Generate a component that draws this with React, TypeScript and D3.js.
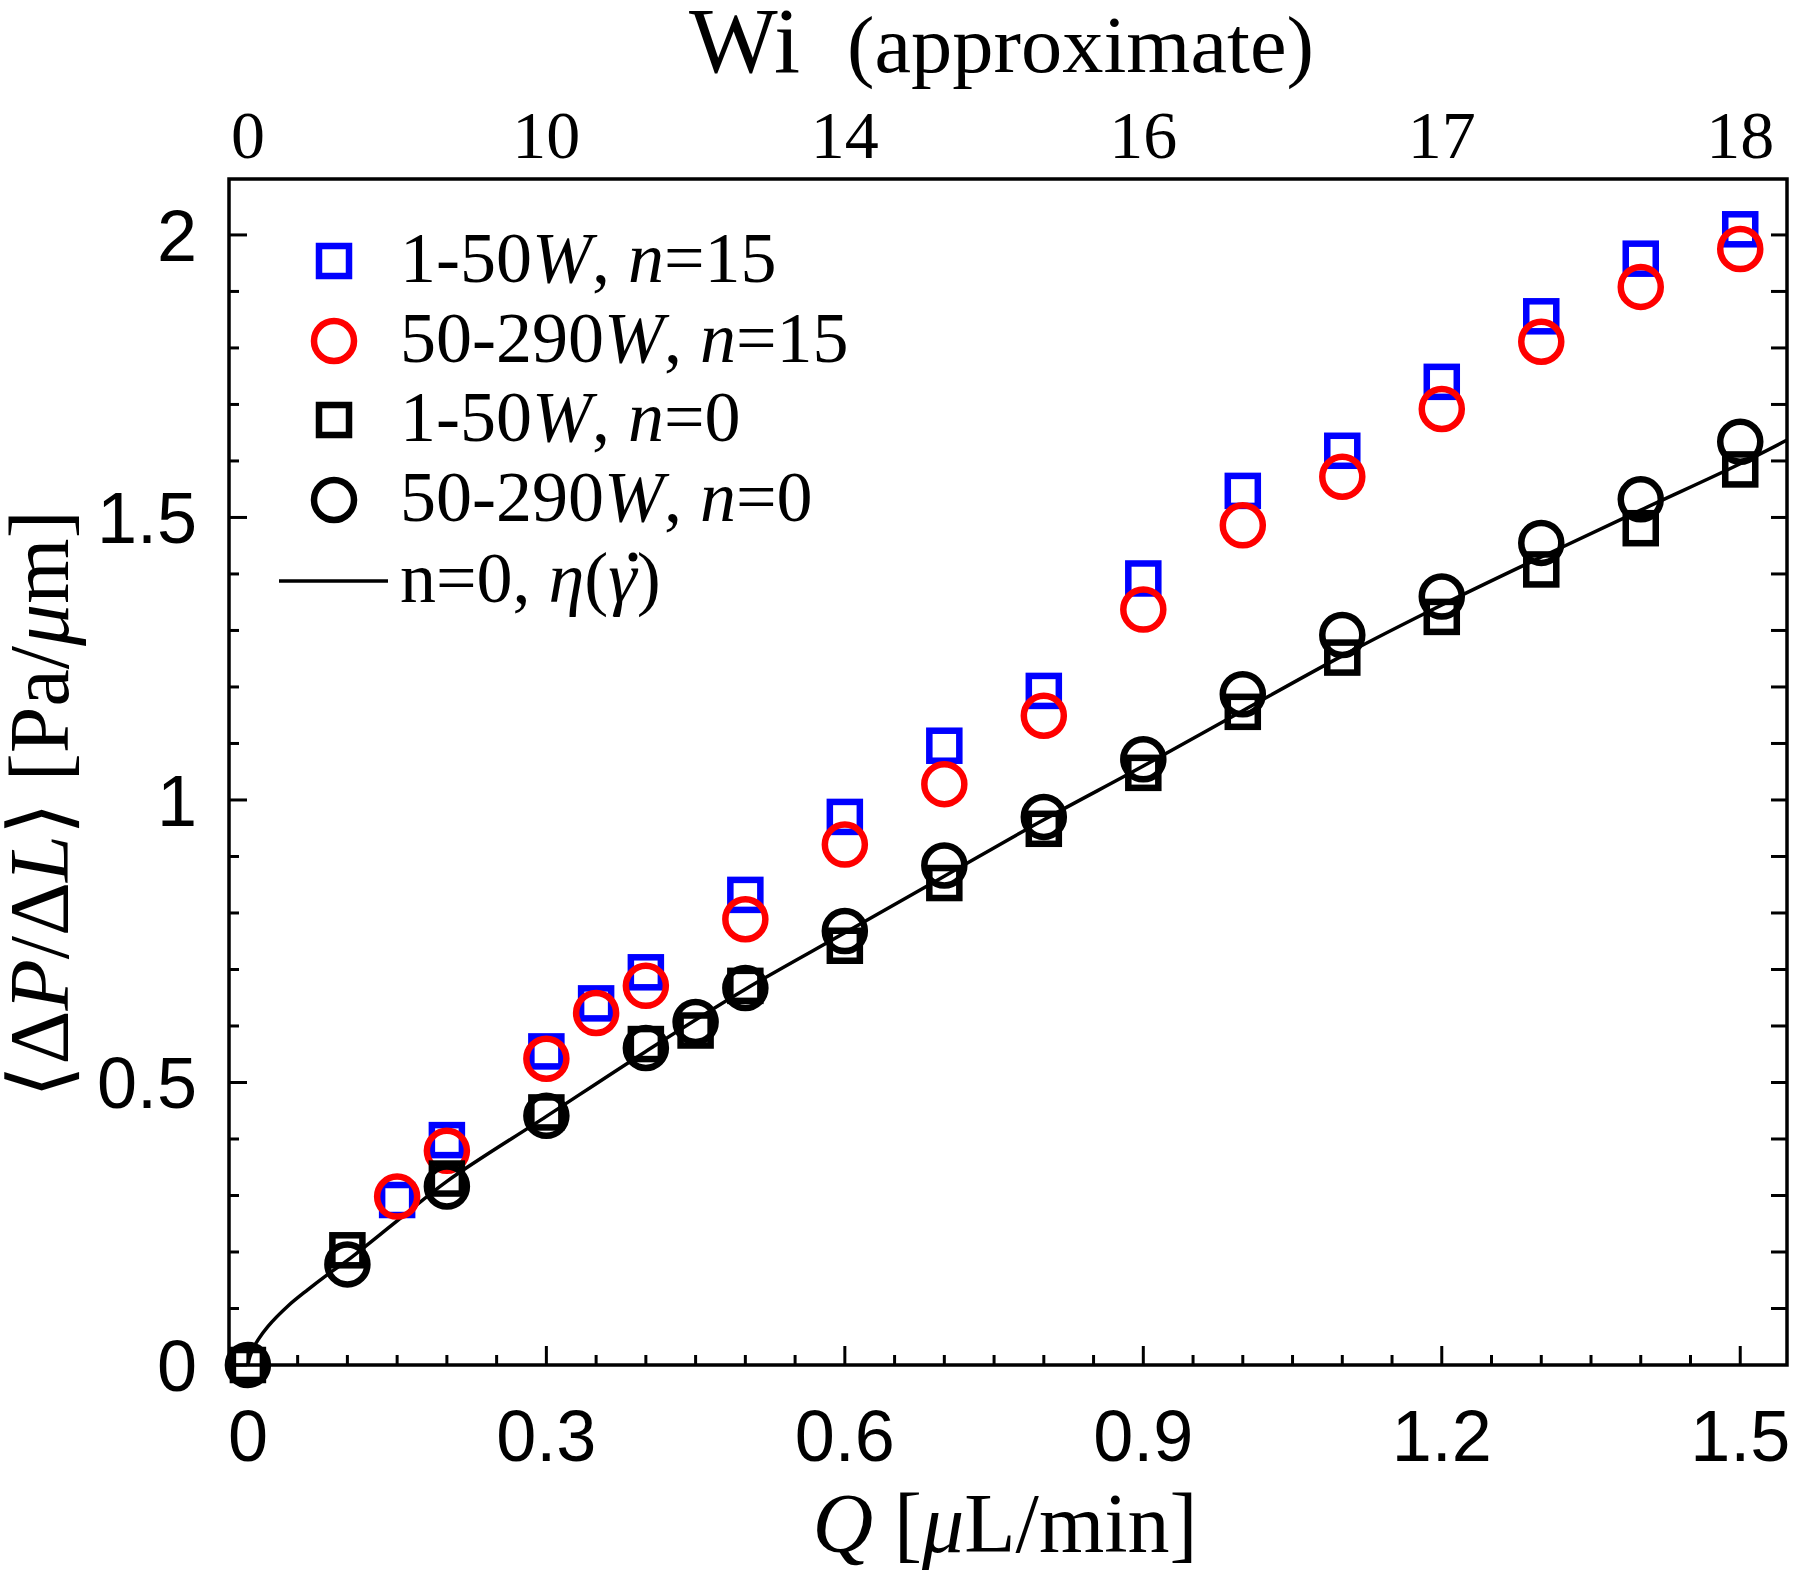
import React from "react";
import * as d3 from "d3";

// ---- data ----
const qN15 = [0.15, 0.2, 0.3, 0.35, 0.4, 0.5, 0.6, 0.7, 0.8, 0.9, 1.0, 1.1, 1.2, 1.3, 1.4, 1.5];
const blueSquares = [0.292, 0.398, 0.555, 0.64, 0.695, 0.832, 0.97, 1.096, 1.193, 1.392, 1.547, 1.618, 1.74, 1.856, 1.958, 2.01];
const redCircles = [0.298, 0.379, 0.542, 0.623, 0.671, 0.789, 0.921, 1.028, 1.149, 1.337, 1.486, 1.572, 1.692, 1.811, 1.908, 1.975];

const qN0 = [0, 0.1, 0.2, 0.3, 0.4, 0.45, 0.5, 0.6, 0.7, 0.8, 0.9, 1.0, 1.1, 1.2, 1.3, 1.4, 1.5];
const blackSquares = [0, 0.203, 0.33, 0.447, 0.568, 0.592, 0.671, 0.742, 0.853, 0.949, 1.048, 1.156, 1.252, 1.324, 1.408, 1.481, 1.585];
const blackCircles = [0, 0.178, 0.316, 0.441, 0.561, 0.607, 0.667, 0.768, 0.884, 0.97, 1.072, 1.187, 1.292, 1.36, 1.455, 1.532, 1.634];

const qLine = [0, 0.002, 0.005, 0.01, 0.02, 0.04, 0.06, 0.08, 0.1, 0.15, 0.2, 0.3, 0.4, 0.5, 0.6, 0.7, 0.8, 0.9, 1.0, 1.1, 1.2, 1.3, 1.4, 1.5, 1.547];
const yLine = [0, 0.015, 0.028, 0.044, 0.068, 0.104, 0.133, 0.16, 0.185, 0.255, 0.325, 0.44, 0.555, 0.665, 0.765, 0.865, 0.965, 1.06, 1.158, 1.255, 1.345, 1.43, 1.513, 1.595, 1.637];

const xTickValues = [0, 0.3, 0.6, 0.9, 1.2, 1.5];
const xTickLabels = ["0", "0.3", "0.6", "0.9", "1.2", "1.5"];
const wiTickLabels = ["0", "10", "14", "16", "17", "18"];
const yTickValues = [0, 0.5, 1, 1.5, 2];
const yTickLabels = ["0", "0.5", "1", "1.5", "2"];

// ---- layout ----
const W = 1800;
const H = 1582;
const L = 229, R = 1787, T = 179, B = 1365;

const x = d3.scaleLinear().domain([-0.019, 1.547]).range([L, R]);
const y = d3.scaleLinear().domain([0, 2.099]).range([B, T]);

const SANS = "'Liberation Sans', Arial, Helvetica, sans-serif";
const SERIF = "'Liberation Serif', 'Times New Roman', serif";

const BLUE = "#0000ff";
const RED = "#ff0000";
const SQ = 30;
const CR = 20;
const MSW = 6.5;

function Square({ cx, cy, color }: { cx: number; cy: number; color: string }) {
  return <rect x={cx - SQ / 2} y={cy - SQ / 2} width={SQ} height={SQ} fill="none" stroke={color} strokeWidth={MSW} />;
}
function Circle({ cx, cy, color }: { cx: number; cy: number; color: string }) {
  return <circle cx={cx} cy={cy} r={CR} fill="none" stroke={color} strokeWidth={MSW} />;
}

export default function App() {
  const lineGen = d3
    .line<number>()
    .x((_, i) => x(qLine[i]))
    .y((d) => y(d))
    .curve(d3.curveCatmullRom.alpha(0.5));

  const bottomTicks = d3.range(0, 31).map((i) => i * 0.05);
  const leftTicks = d3.range(0, 21).map((i) => i * 0.1);

  const legendX = 334;
  const legendRows = [261, 341, 420, 500];
  const legendTextX = 400;

  return (
    <svg width={W} height={H} style={{ position: "absolute", left: 0, top: 0, background: "#fff" }}>
      <rect x={0} y={0} width={W} height={H} fill="#fff" />

      {/* ticks bottom */}
      {bottomTicks.map((v, i) => {
        const major = i % 6 === 0;
        return (
          <line key={"bt" + i} x1={x(v)} x2={x(v)} y1={B} y2={B - (major ? 19 : 10)} stroke="#000" strokeWidth={3} />
        );
      })}
      {/* ticks left */}
      {leftTicks.map((v, i) => {
        const major = i % 5 === 0;
        return (
          <line key={"lt" + i} x1={L} x2={L + (major ? 18 : 10)} y1={y(v)} y2={y(v)} stroke="#000" strokeWidth={3} />
        );
      })}
      {/* ticks right */}
      {leftTicks.slice(1).map((v, i) => (
        <line key={"rt" + i} x1={R} x2={R - 16} y1={y(v)} y2={y(v)} stroke="#000" strokeWidth={3} />
      ))}

      {/* frame */}
      <rect x={L} y={T} width={R - L} height={B - T} fill="none" stroke="#000" strokeWidth={3.5} />

      {/* fitted curve */}
      <path d={lineGen(yLine) || ""} fill="none" stroke="#000" strokeWidth={3.5} />

      {/* markers */}
      {blueSquares.map((v, i) => (
        <Square key={"bs" + i} cx={x(qN15[i])} cy={y(v)} color={BLUE} />
      ))}
      {redCircles.map((v, i) => (
        <Circle key={"rc" + i} cx={x(qN15[i])} cy={y(v)} color={RED} />
      ))}
      {blackSquares.map((v, i) => (
        <Square key={"ks" + i} cx={x(qN0[i])} cy={y(v)} color="#000" />
      ))}
      {blackCircles.map((v, i) => (
        <Circle key={"kc" + i} cx={x(qN0[i])} cy={y(v)} color="#000" />
      ))}

      {/* bottom tick labels */}
      {xTickValues.map((v, i) => (
        <text key={"bl" + i} x={x(v)} y={1461} textAnchor="middle" fontFamily={SANS} fontSize={72}>
          {xTickLabels[i]}
        </text>
      ))}
      {/* left tick labels */}
      {yTickValues.map((v, i) => (
        <text key={"yl" + i} x={197} y={y(v) + 26} textAnchor="end" fontFamily={SANS} fontSize={72}>
          {yTickLabels[i]}
        </text>
      ))}
      {/* top Wi tick labels */}
      {xTickValues.map((v, i) => (
        <text key={"tl" + i} x={x(v)} y={158} textAnchor="middle" fontFamily={SERIF} fontSize={68}>
          {wiTickLabels[i]}
        </text>
      ))}

      {/* top title */}
      <text x={689} y={72} fontFamily={SERIF} fontSize={94}>
        Wi
      </text>
      <text x={847} y={72} fontFamily={SERIF} fontSize={80} textLength={467} lengthAdjust="spacingAndGlyphs">
        (approximate)
      </text>

      {/* x axis label */}
      <text x={1005} y={1552} textAnchor="middle" fontFamily={SERIF} fontSize={84}>
        <tspan fontStyle="italic">Q</tspan>
        <tspan> [</tspan>
        <tspan fontStyle="italic">μ</tspan>
        <tspan>L/min]</tspan>
      </text>

      {/* y axis label */}
      <text
        transform={`translate(68, 804) rotate(-90)`}
        textAnchor="middle"
        fontFamily={SERIF}
        fontSize={84}
      >
        <tspan>⟨Δ</tspan>
        <tspan fontStyle="italic">P</tspan>
        <tspan>/Δ</tspan>
        <tspan fontStyle="italic">L</tspan>
        <tspan>⟩ [Pa/</tspan>
        <tspan fontStyle="italic">μ</tspan>
        <tspan>m]</tspan>
      </text>

      {/* legend */}
      <Square cx={legendX} cy={legendRows[0]} color={BLUE} />
      <Circle cx={legendX} cy={legendRows[1]} color={RED} />
      <Square cx={legendX} cy={legendRows[2]} color="#000" />
      <Circle cx={legendX} cy={legendRows[3]} color="#000" />
      <line x1={279} x2={388} y1={581} y2={581} stroke="#000" strokeWidth={3.5} />

      <text x={legendTextX} y={legendRows[0] + 21} fontFamily={SERIF} fontSize={72}>
        <tspan>1-50</tspan>
        <tspan fontStyle="italic">W</tspan>
        <tspan>, </tspan>
        <tspan fontStyle="italic">n</tspan>
        <tspan>=15</tspan>
      </text>
      <text x={legendTextX} y={legendRows[1] + 21} fontFamily={SERIF} fontSize={72}>
        <tspan>50-290</tspan>
        <tspan fontStyle="italic">W</tspan>
        <tspan>, </tspan>
        <tspan fontStyle="italic">n</tspan>
        <tspan>=15</tspan>
      </text>
      <text x={legendTextX} y={legendRows[2] + 21} fontFamily={SERIF} fontSize={72}>
        <tspan>1-50</tspan>
        <tspan fontStyle="italic">W</tspan>
        <tspan>, </tspan>
        <tspan fontStyle="italic">n</tspan>
        <tspan>=0</tspan>
      </text>
      <text x={legendTextX} y={legendRows[3] + 21} fontFamily={SERIF} fontSize={72}>
        <tspan>50-290</tspan>
        <tspan fontStyle="italic">W</tspan>
        <tspan>, </tspan>
        <tspan fontStyle="italic">n</tspan>
        <tspan>=0</tspan>
      </text>
      <text x={legendTextX} y={581 + 21} fontFamily={SERIF} fontSize={72}>
        <tspan>n=0, </tspan>
        <tspan fontStyle="italic">η</tspan>
        <tspan>(</tspan>
        <tspan fontStyle="italic">γ</tspan>
        <tspan>)</tspan>
      </text>
      <circle cx={633} cy={557} r={4.5} fill="#000" />
    </svg>
  );
}
